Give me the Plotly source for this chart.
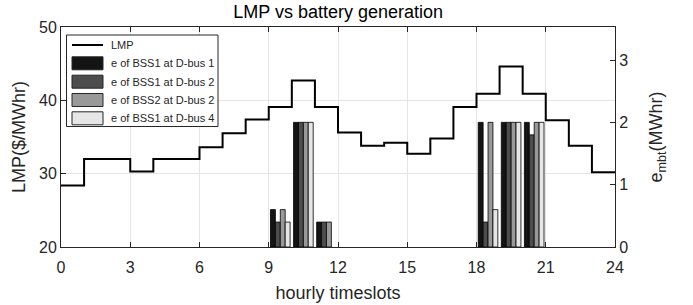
import plotly.graph_objects as go

hours = list(range(25))
lmp = [28.4, 32.0, 32.0, 30.3, 32.0, 32.0, 33.6, 35.5, 37.4, 39.1, 42.7, 39.1,
       35.6, 33.8, 34.2, 32.7, 34.8, 39.1, 40.9, 44.6, 40.9, 37.3, 33.8, 30.2]

slots = [h + 0.5 for h in range(24)]
names = ["e of BSS1 at D-bus 1", "e of BSS1 at D-bus 2",
         "e of BSS2 at D-bus 2", "e of BSS1 at D-bus 4"]
colors = ["#141414", "#4d4d4d", "#999999", "#e6e6e6"]

# nonzero values for slots 9.5, 10.5, 11.5, 18.5, 19.5, 20.5
active = [9, 10, 11, 18, 19, 20]
bss_vals = [
    [0.6, 2.0, 0.4, 2.0, 2.0, 2.0],
    [0.4, 2.0, 0.4, 0.4, 2.0, 1.8],
    [0.6, 2.0, 0.4, 2.0, 2.0, 2.0],
    [0.4, 2.0, 0.0, 0.6, 2.0, 2.0],
]

W, H = 693, 305
ML, MR, MT, MB = 61, 78, 27, 58
PW, PH = W - ML - MR, H - MT - MB


def px(x):
    return (x - ML) / PW


def py(y):
    return (H - MB - y) / PH


fig = go.Figure()
fig.add_trace(go.Scatter(x=hours, y=lmp + [lmp[-1]], mode="lines",
                         line=dict(shape="hv", color="black", width=2),
                         name="LMP", yaxis="y", showlegend=False))
for nm, col, vals in zip(names, colors, bss_vals):
    series = [None] * 24
    for i, v in zip(active, vals):
        series[i] = v if v > 0 else None
    fig.add_trace(go.Bar(x=slots, y=series, name=nm, yaxis="y2", showlegend=False,
                         marker=dict(color=col, line=dict(color="black", width=0.8))))

# custom legend (box, line sample, wide swatches, texts)
shapes = [dict(type="rect", xref="paper", yref="paper",
               x0=px(66.5), x1=px(218), y0=py(35), y1=py(126.5),
               fillcolor="white", line=dict(color="#262626", width=1), layer="above")]
annotations = []
rows = [45, 63.3, 81.7, 100, 118.3]
shapes.append(dict(type="line", xref="paper", yref="paper",
                   x0=px(72), x1=px(103), y0=py(rows[0]), y1=py(rows[0]),
                   line=dict(color="black", width=2), layer="above"))
annotations.append(dict(text="LMP", xref="paper", yref="paper", x=px(109), y=py(rows[0]),
                        xanchor="left", yanchor="middle", showarrow=False,
                        font=dict(size=11, color="#262626")))
for nm, col, r in zip(names, colors, rows[1:]):
    shapes.append(dict(type="rect", xref="paper", yref="paper",
                       x0=px(72), x1=px(103), y0=py(r + 6.5), y1=py(r - 6.5),
                       fillcolor=col, line=dict(color="#262626", width=1), layer="above"))
    annotations.append(dict(text=nm, xref="paper", yref="paper", x=px(109), y=py(r),
                            xanchor="left", yanchor="middle", showarrow=False,
                            font=dict(size=11, color="#262626")))

font = "Liberation Sans, Arial, sans-serif"
fig.update_layout(
    width=W, height=H,
    margin=dict(l=ML, r=MR, t=MT, b=MB, autoexpand=False),
    paper_bgcolor="white", plot_bgcolor="white",
    font=dict(family=font, size=16, color="#262626"),
    title=dict(text="LMP vs battery generation", x=0.488, xanchor="center",
               y=0.962, yanchor="middle", font=dict(size=18, color="black")),
    barmode="group", bargap=0.15, bargroupgap=0,
    showlegend=False,
    shapes=shapes, annotations=annotations,
    xaxis=dict(range=[0, 24], tickvals=list(range(0, 25, 3)), automargin=False,
               showline=True, linecolor="#262626", linewidth=1, mirror="ticks",
               ticks="inside", ticklen=5, tickcolor="#262626", ticklabelstandoff=6,
               showgrid=True, gridcolor="#e5e5e5", zeroline=False,
               title=dict(text="hourly timeslots", font=dict(size=18), standoff=11)),
    yaxis=dict(range=[20, 50], tickvals=[20, 30, 40, 50], automargin=False,
               showline=True, linecolor="#262626", linewidth=1, mirror=True,
               ticks="inside", ticklen=5, tickcolor="#262626",
               showgrid=True, gridcolor="#e5e5e5", zeroline=False,
               title=dict(text="LMP($/MWhr)", font=dict(size=18), standoff=8)),
    yaxis2=dict(range=[0, 3.53], tickvals=[0, 1, 2, 3], overlaying="y", side="right",
                automargin=False,
                showline=True, linecolor="#262626", linewidth=1,
                ticks="inside", ticklen=5, tickcolor="#262626",
                showgrid=False, zeroline=False,
                title=dict(text="e<sub>mbt</sub>(MWhr)", font=dict(size=18), standoff=22)),
)

fig.write_html("out.html", config={"displayModeBar": False},
               post_script="document.body.style.margin='0px';")
